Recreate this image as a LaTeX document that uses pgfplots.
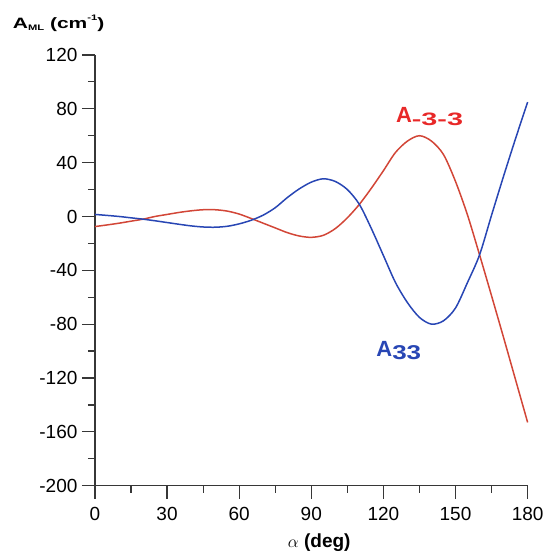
\documentclass[border=0pt]{standalone}
\usepackage{pgfplots}
\pgfplotsset{compat=1.18}
\usepackage{fontspec}
\setmainfont{Liberation Sans}
\definecolor{redline}{RGB}{210,70,55}
\definecolor{redlab}{RGB}{232,40,40}
\definecolor{blueline}{RGB}{40,70,180}
\definecolor{axiscol}{RGB}{55,55,55}
\begin{document}
\begin{tikzpicture}
\begin{axis}[
  name=ax,
  width=433pt, height=431pt, scale only axis,
  xmin=0, xmax=180, ymin=-200, ymax=120,
  axis x line=bottom, axis y line=left,
  axis line style={axiscol, line width=1.2pt, -},
  xtick={0,30,...,180}, minor xtick={15,45,...,165},
  ytick={-200,-160,...,120}, minor ytick={-180,-140,...,100},
  tick align=outside,
  major tick length=13pt, minor tick length=7pt,
  every tick/.style={axiscol, line width=1.2pt},
  tick label style={font=\fontsize{19}{21}\selectfont},
  /pgf/number format/assume math mode=true,
  yticklabel style={xshift=-1pt},
  xticklabel style={yshift=-5pt},
  clip=false,
]
\addplot[redline, line width=1.5pt, smooth] coordinates {
(0,-7.5) (5,-6.3) (10,-5) (15,-3.5) (20,-2) (25,0) (30,1.5) (35,3) (40,4.2) (45,5)
(50,5) (55,4) (60,1.8) (65,-1.5) (70,-5) (75,-8.5) (80,-12) (85,-14.5) (90,-15.5)
(95,-14) (100,-9) (105,-1) (110,9) (115,21) (120,34) (125,47.5) (130,56) (135,60)
(140,56) (145,46) (150,26) (155,1) (160,-28.5) (165,-59) (170,-90) (175,-121.5) (180,-153)
};
\addplot[blueline, line width=1.5pt, smooth] coordinates {
(0,1.5) (5,0.8) (10,0) (15,-1) (20,-2) (25,-3.2) (30,-4.5) (35,-5.8) (40,-7) (45,-7.8)
(50,-8) (55,-7.3) (60,-5.5) (65,-2.8) (70,1) (75,6.5) (80,14) (85,20.5) (90,25.5)
(95,28) (100,26) (105,20) (110,9) (115,-9) (120,-29) (125,-49) (130,-64) (135,-75)
(140,-80) (145,-77.5) (150,-68) (155,-49) (160,-28.5) (165,1) (170,30) (175,58) (180,85)
};
\node[redlab, font=\fontsize{22}{24}\selectfont\bfseries] at (axis cs:139.2,74.2)
  {A\raisebox{-0.3ex}{\scalebox{1.6}[1]{\fontsize{18}{20}\selectfont -3-3}}};
\node[blueline, font=\fontsize{22}{24}\selectfont\bfseries] at (axis cs:126.4,-99.5)
  {A\raisebox{-0.3ex}{\scalebox{1.3}[1]{\fontsize{20}{22}\selectfont 33}}};
\node[anchor=base west, inner sep=0pt, font=\fontsize{15}{17}\selectfont\bfseries] at (axis cs:-34.2,140)
  {\scalebox{1.4}[1]{A\raisebox{-0.3ex}{\fontsize{8}{9}\selectfont ML} (cm\raisebox{0.9ex}{\fontsize{8}{9}\selectfont -1})}};
\node[anchor=base, inner sep=0pt, font=\fontsize{19}{21}\selectfont\bfseries] at (axis cs:93.3,-246.3) {$\alpha$ (deg)};
\end{axis}
\path (ax.south west) ++(-95pt,-66pt) rectangle ([shift={(18pt,55pt)}]ax.north east);
\end{tikzpicture}
\end{document}
